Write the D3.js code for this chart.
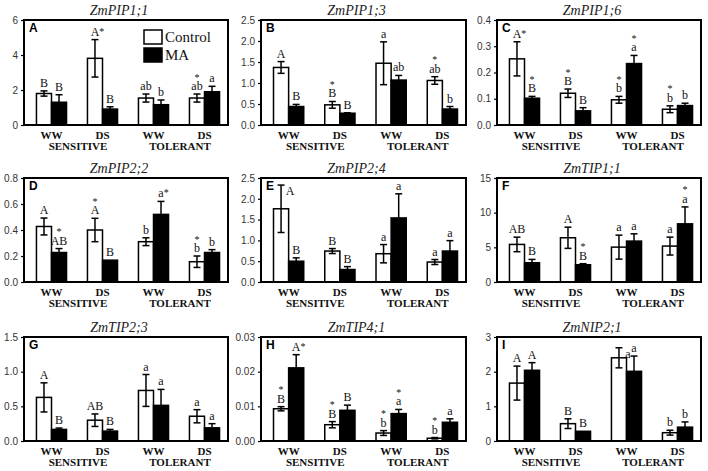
<!DOCTYPE html>
<html><head><meta charset="utf-8">
<script src="https://cdn.jsdelivr.net/npm/d3@7/dist/d3.min.js"></script>
<style>body{margin:0;background:#fff}svg{display:block}</style>
</head><body>
<script>
const genes = ["ZmPIP1;1","ZmPIP1;3","ZmPIP1;6","ZmPIP2;2","ZmPIP2;4","ZmTIP1;1","ZmTIP2;3","ZmTIP4;1","ZmNIP2;1"];
const panelLetters = ["A","B","C","D","E","F","G","H","I"];
const groups = ["WW","DS","WW","DS"];
const cultivars = ["SENSITIVE","TOLERANT"];
const seriesNames = ["Control","MA"];
const yMax = [6,2.5,0.4,0.8,2.5,15,1.5,0.03,3];
const yStep = [2,0.5,0.1,0.2,0.5,5,0.5,0.01,1];
const yDecimals = [0,1,1,1,1,0,1,2,0];

const controlMean = [
  [1.80,3.81,1.54,1.54],
  [1.37,0.48,1.47,1.06],
  [0.252,0.121,0.096,0.060],
  [0.427,0.40,0.31,0.156],
  [1.76,0.744,0.68,0.48],
  [5.42,6.38,5.03,5.18],
  [0.629,0.30,0.729,0.357],
  [0.0093,0.0047,0.0023,0.0008],
  [1.67,0.50,2.40,0.24]];
const controlErr = [
  [0.15,1.07,0.23,0.23],
  [0.14,0.08,0.51,0.09],
  [0.065,0.016,0.013,0.013],
  [0.065,0.09,0.03,0.044],
  [0.57,0.06,0.22,0.06],
  [1.05,1.53,1.73,1.29],
  [0.21,0.09,0.23,0.095],
  [0.0006,0.0009,0.0007,0.0002],
  [0.49,0.14,0.29,0.07]];
const maMean = [
  [1.30,0.91,1.16,1.90],
  [0.44,0.28,1.07,0.38],
  [0.102,0.054,0.234,0.074],
  [0.227,0.168,0.52,0.227],
  [0.50,0.30,1.54,0.744],
  [2.78,2.49,5.90,8.39],
  [0.167,0.143,0.514,0.19],
  [0.0211,0.00885,0.0079,0.0054],
  [2.04,0.28,2.01,0.40]];
const maErr = [
  [0.43,0.13,0.27,0.31],
  [0.05,0.01,0.11,0.06],
  [0.007,0.012,0.031,0.009],
  [0.03,0.0,0.10,0.022],
  [0.08,0.07,0.58,0.25],
  [0.48,0.15,1.05,2.44],
  [0.02,0.024,0.23,0.06],
  [0.0038,0.0015,0.0012,0.001],
  [0.22,0.0,0.44,0.15]];
const controlLetters = [
  ["B","A","ab","ab"],
  ["A","B","a","ab"],
  ["A","B","b","b"],
  ["A","A","b","b"],
  ["A","B","a","a"],
  ["AB","A","a","a"],
  ["A","AB","a","a"],
  ["B","B","b","b"],
  ["A","B","a","b"]];
const maLetters = [
  ["B","B","b","a"],
  ["B","B","ab","b"],
  ["B","B","a","b"],
  ["AB","B","a","b"],
  ["B","B","a","a"],
  ["B","B","a","a"],
  ["B","B","a","a"],
  ["A","B","a","a"],
  ["A","B","a","b"]];
// star marks: "" none, "side" next to letter, "top" above letter
const controlStars = [
  ["","side","","top"],
  ["","top","","top"],
  ["side","top","top","top"],
  ["","top","","top"],
  ["","","",""],
  ["","","",""],
  ["","","",""],
  ["top","top","top","top"],
  ["","","",""]];
const maStars = [
  ["","","",""],
  ["","","",""],
  ["top","","top",""],
  ["top","","side",""],
  ["","","",""],
  ["","top","","top"],
  ["","","",""],
  ["side","","top",""],
  ["","","",""]];

const W = 708, H = 471;
const svg = d3.select("body").append("svg").attr("width", W).attr("height", H);
const colX0 = [24, 261, 497], colX1 = [228, 466, 701];
const rowY0 = [20, 178, 337], rowY1 = [125, 282, 441];
const serif = "'Liberation Serif','Times New Roman',serif";
const sans = "'Liberation Sans',Arial,sans-serif";

genes.forEach((gene, i) => {
  const c = i % 3, r = Math.floor(i / 3);
  const x0 = colX0[c], x1 = colX1[c], y0 = rowY0[r], y1 = rowY1[r];
  const g = svg.append("g");
  const y = d3.scaleLinear().domain([0, yMax[i]]).range([y1, y0]);
  const x = d3.scaleBand().domain(d3.range(groups.length)).range([x0 + 2, x1 + 2]).padding(0);
  const bw = x.step() * 0.295;
  const ctr = k => x(k) + x.bandwidth() / 2;

  // y axis
  const ticks = d3.range(0, yMax[i] + yStep[i] / 2, yStep[i]);
  const ax = g.append("g").attr("transform", `translate(${x0},0)`)
    .call(d3.axisLeft(y).tickValues(ticks).tickSize(3).tickSizeOuter(0)
      .tickFormat(d3.format(`.${yDecimals[i]}f`)));
  ax.select(".domain").remove();
  ax.selectAll("line").attr("stroke", "#000").attr("stroke-width", 1.2);
  ax.selectAll("text").attr("font-family", sans).attr("font-size", 10).attr("fill", "#333").attr("x", -6);

  const series = [
    {mean: controlMean[i], err: controlErr[i], lab: controlLetters[i], star: controlStars[i], off: -bw, fill: "#fff"},
    {mean: maMean[i], err: maErr[i], lab: maLetters[i], star: maStars[i], off: 0, fill: "#000"}
  ];
  series.forEach(s => {
    s.mean.forEach((v, k) => {
      const bx = ctr(k) + s.off;
      g.append("rect").attr("x", bx).attr("y", y(v)).attr("width", bw).attr("height", y(0) - y(v))
        .attr("fill", s.fill).attr("stroke", "#000").attr("stroke-width", 1.5);
      const cx = bx + bw / 2;
      const e = s.err[k];
      if (e > 0) {
        g.append("line").attr("x1", cx).attr("x2", cx).attr("y1", y(v - e)).attr("y2", y(v + e))
          .attr("stroke", "#000").attr("stroke-width", 1.5);
        [v + e, v - e].forEach(yy => g.append("line").attr("x1", cx - 3.5).attr("x2", cx + 3.5)
          .attr("y1", y(yy)).attr("y2", y(yy)).attr("stroke", "#000").attr("stroke-width", 1.5));
      }
      let lb = y(v + e) - 4, lx = cx;
      // if the letter would hit the frame top, place it beside the whisker
      if (lb - 9 < y0) { lb = y(v + e) + 10; lx = cx + 9; }
      const t = g.append("text").attr("x", lx).attr("y", lb).attr("text-anchor", "middle")
        .attr("font-family", serif).attr("font-size", 12).attr("fill", "#111").text(s.lab[k]);
      if (s.star[k] === "side") {
        t.append("tspan").attr("font-size", 10).attr("dy", -1).text("*");
        t.attr("x", lx + 2.5);
      } else if (s.star[k] === "top") {
        g.append("text").attr("x", lx).attr("y", lb - 9.5).attr("text-anchor", "middle")
          .attr("font-family", serif).attr("font-size", 10).attr("fill", "#111").text("*");
      }
    });
  });

  // frame
  g.append("rect").attr("x", x0).attr("y", y0).attr("width", x1 - x0).attr("height", y1 - y0)
    .attr("fill", "none").attr("stroke", "#000").attr("stroke-width", 2);

  // panel letter
  g.append("text").attr("x", x0 + 5).attr("y", y0 + 12).attr("font-family", sans)
    .attr("font-weight", "bold").attr("font-size", 12).attr("fill", "#000").text(panelLetters[i]);

  // title
  g.append("text").attr("x", (x0 + x1) / 2 - 7).attr("y", y0 - 5).attr("text-anchor", "middle")
    .attr("font-family", serif).attr("font-style", "italic").attr("font-size", 14).attr("fill", "#222").text(gene);

  // group labels
  groups.forEach((lbl, k) => {
    g.append("text").attr("x", ctr(k)).attr("y", y1 + 14).attr("text-anchor", "middle")
      .attr("font-family", serif).attr("font-weight", "bold").attr("font-size", 11).attr("fill", "#111").text(lbl);
  });
  cultivars.forEach((lbl, j) => {
    g.append("text").attr("x", (ctr(2 * j) + ctr(2 * j + 1)) / 2 + 1).attr("y", y1 + 25).attr("text-anchor", "middle")
      .attr("font-family", serif).attr("font-weight", "bold").attr("font-size", 11).attr("fill", "#111").text(lbl);
  });

  // legend in first panel
  if (i === 0) {
    const lx = x0 + 120, ly = y0 + 10;
    seriesNames.forEach((nm, j) => {
      g.append("rect").attr("x", lx).attr("y", ly + j * 18).attr("width", 18).attr("height", 14)
        .attr("fill", j === 0 ? "#fff" : "#000").attr("stroke", "#000").attr("stroke-width", 1.5);
      g.append("text").attr("x", lx + 21).attr("y", ly + j * 18 + 12).attr("font-family", serif)
        .attr("font-size", 15).attr("fill", "#111").text(nm);
    });
  }
});
</script>
</body></html>
